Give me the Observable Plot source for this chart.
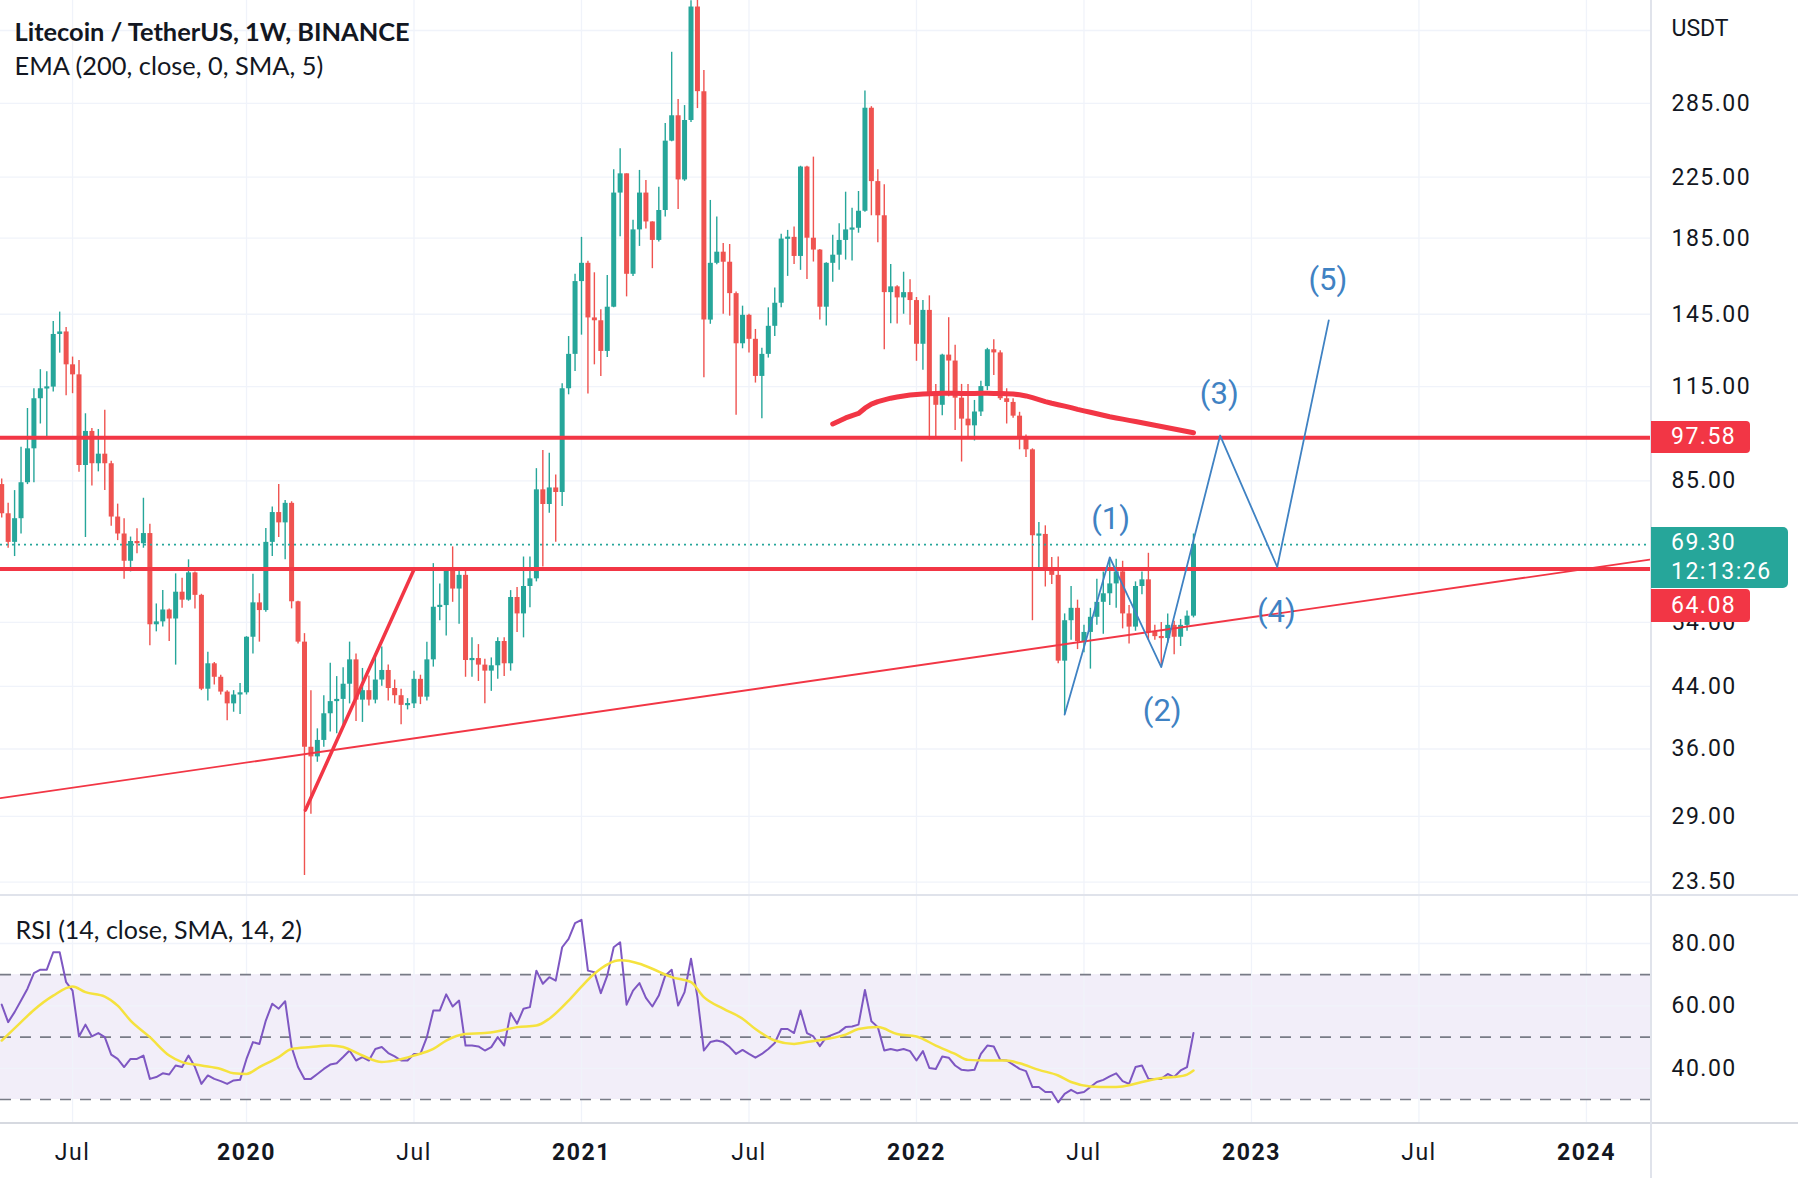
<!DOCTYPE html>
<html><head><meta charset="utf-8">
<script src="https://cdn.jsdelivr.net/npm/d3@7"></script>
<script src="https://cdn.jsdelivr.net/npm/@observablehq/plot@0.6"></script>
<style>
html,body{margin:0;padding:0;background:#fff;}
#wrap{position:relative;width:1798px;height:1178px;overflow:hidden;background:#fff;font-family:Roboto,sans-serif;color:#131722;}
#wrap svg{display:block;}
g[aria-label$="tick label"] text{letter-spacing:1.5px;}
.box{position:absolute;left:1651px;color:#fff;font-family:Roboto,sans-serif;font-size:23px;letter-spacing:1.5px;border-radius:0 4px 4px 0;box-sizing:border-box;padding-left:20px;white-space:nowrap;}
.sep{position:absolute;background:#e0e3eb;}
</style></head><body><div id="wrap"></div>
<script>
// ---------- DATA ----------
const weekStart = "2019-04-15";   // first weekly candle (Monday)
const weekEnd   = "2022-10-31";   // last weekly candle
const open = [84.0,76.5,69.8,75.3,84.5,94.2,110.6,114.2,114.8,135.9,
137.0,123.3,119.4,89.3,99.6,89.8,92.6,89.8,75.7,71.7,
65.7,70.0,69.5,71.8,53.6,54.1,56.2,54.6,59.5,58.0,
63.3,58.9,43.6,47.3,45.3,43.2,41.6,42.8,43.1,51.5,
57.5,56.1,69.8,76.8,74.3,79.1,57.7,50.7,36.2,35.1,
37.0,40.3,41.9,42.2,44.3,47.9,42.1,43.4,42.1,44.9,
46.3,43.7,42.7,41.4,41.6,45.0,42.5,47.9,56.7,57.0,
63.8,60.1,62.8,47.8,48.1,47.1,46.2,47.0,50.8,47.3,
58.5,55.5,60.6,62.1,82.6,78.8,83.1,81.9,114.2,127.5,
161.0,170.7,143.3,142.0,128.7,148.3,213.8,227.4,164.8,190.0,
213.8,194.9,183.7,202.2,252.5,273.9,223.0,269.8,388.1,295.9,
142.3,170.7,176.9,171.3,154.9,131.9,144.5,133.8,118.8,127.5,
139.5,150.2,184.5,185.5,174.5,232.4,185.0,178.1,148.3,170.7,
175.2,183.7,190.0,191.0,201.7,280.6,221.8,198.8,155.4,158.3,
152.8,155.4,151.5,131.7,146.8,112.8,108.3,127.2,124.8,110.8,
103.6,101.4,106.0,115.0,129.4,128.1,110.6,109.3,104.6,97.5,
93.9,71.3,71.6,63.6,62.8,47.7,54.3,56.5,50.8,52.3,
54.9,57.6,59.2,61.1,63.5,55.5,53.2,60.6,61.9,52.3,
51.6,51.3,53.5,51.5,53.5,55.1];
const high = [85.5,79.1,82.4,94.7,107.2,114.2,121.4,120.6,141.7,146.0,
139.0,126.4,125.0,105.4,100.5,100.2,106.6,90.5,78.9,75.3,
71.0,72.9,80.4,74.0,57.3,59.8,56.4,63.1,62.2,66.0,
63.5,59.1,49.1,47.5,45.6,43.4,43.4,44.4,51.6,63.0,
59.2,73.0,78.2,84.0,79.8,79.5,57.8,52.1,43.4,38.4,
42.7,47.4,45.4,46.7,50.7,48.8,46.6,45.5,48.3,49.9,
47.1,44.9,43.6,42.3,46.2,45.6,50.7,65.2,61.1,64.0,
68.8,63.8,64.2,51.4,50.3,48.0,48.2,51.4,51.4,59.8,
60.4,66.6,66.6,88.4,93.7,92.9,86.6,116.0,135.0,164.8,
185.5,171.9,165.6,147.1,164.2,230.3,246.4,227.4,195.9,229.9,
222.6,195.0,217.8,267.3,335.7,288.5,283.0,396.0,412.0,316.7,
208.8,198.0,181.9,181.3,155.7,148.8,145.0,138.1,130.0,148.0,
157.7,187.4,189.7,191.8,233.0,233.0,239.9,178.5,171.0,186.7,
193.8,214.4,203.6,214.9,296.5,282.0,230.4,219.5,170.1,158.9,
165.9,162.0,153.0,151.5,153.8,115.8,127.5,143.4,131.3,115.8,
115.8,110.0,117.0,130.0,133.6,129.0,114.2,110.6,105.9,98.5,
94.2,74.4,73.6,66.5,66.6,55.5,60.6,58.0,53.5,56.5,
62.0,63.5,66.5,66.1,65.7,57.0,61.5,63.5,67.4,53.5,
54.0,55.5,54.2,54.5,56.0,71.7];
const low = [75.5,68.5,66.7,71.7,84.0,84.5,102.0,97.9,113.0,128.0,
111.7,112.4,87.4,70.9,83.6,87.5,82.4,73.5,70.2,62.0,
63.5,67.3,68.5,50.1,52.4,53.2,50.8,47.1,56.5,57.8,
56.4,43.4,42.0,44.2,42.8,39.4,40.5,40.2,42.8,48.8,
50.7,55.8,66.7,70.9,66.0,56.4,50.4,24.0,29.2,34.5,
36.2,38.0,37.8,38.6,41.6,39.3,39.2,41.3,41.6,44.0,
42.0,41.6,38.9,40.8,41.0,41.5,42.0,46.8,54.3,51.7,
57.6,53.7,45.3,45.3,44.7,41.6,43.3,45.0,45.4,46.2,
52.3,51.4,56.6,61.5,64.5,76.6,69.8,78.3,112.0,120.7,
135.6,112.3,123.3,118.8,126.2,148.1,185.8,153.3,163.7,180.2,
190.5,167.8,182.7,198.0,252.0,202.8,222.0,268.0,280.3,118.3,
140.4,169.9,145.0,144.1,104.9,129.8,128.1,116.3,103.7,126.0,
135.0,148.0,163.7,170.0,166.9,162.1,171.4,142.3,139.6,160.7,
166.9,172.5,172.0,188.0,201.0,198.8,182.3,129.4,140.6,140.5,
145.0,140.0,124.7,121.2,96.9,97.4,104.7,111.3,99.9,90.3,
97.5,96.6,104.5,113.5,119.2,110.0,102.0,103.9,93.9,91.6,
54.3,64.1,60.5,61.0,47.3,40.2,51.0,49.5,49.0,46.5,
53.5,52.0,57.0,56.5,52.9,50.4,52.5,59.0,51.0,51.0,
46.8,50.5,48.7,50.0,52.5,54.8];
const close = [76.5,69.8,75.3,84.5,94.2,110.6,114.2,114.8,135.9,137.0,
123.3,119.4,89.3,99.6,89.8,92.6,89.8,75.7,71.7,65.7,
70.0,69.5,71.8,53.6,54.1,56.2,54.6,59.5,58.0,63.3,
58.9,43.6,47.3,45.3,43.2,41.6,42.8,43.1,51.5,57.5,
56.1,69.8,76.8,74.3,79.1,57.7,50.7,36.2,35.1,37.0,
40.3,41.9,42.2,44.3,47.9,42.1,43.4,42.1,44.9,46.3,
43.7,42.7,41.4,41.6,45.0,42.5,47.9,56.7,57.0,63.8,
60.1,62.8,47.8,48.1,47.1,46.2,47.0,50.8,47.3,58.5,
55.5,60.6,62.1,82.6,78.8,83.1,81.9,114.2,127.5,161.0,
170.7,143.3,142.0,128.7,148.3,213.8,227.4,164.8,190.0,213.8,
194.9,183.7,202.2,252.5,273.9,223.0,269.8,388.1,295.9,142.3,
170.7,176.9,171.3,154.9,131.9,144.5,133.8,118.8,127.5,139.5,
150.2,184.5,185.5,174.5,232.4,185.0,178.1,148.3,170.7,175.2,
183.7,190.0,191.0,201.7,280.6,221.8,198.8,155.4,158.3,152.8,
155.4,151.5,131.7,146.8,112.8,108.3,127.2,124.8,110.8,103.6,
101.4,106.0,115.0,129.4,128.1,110.6,109.3,104.6,97.5,93.9,
71.3,71.6,63.6,62.8,47.7,54.3,56.5,50.8,52.3,54.9,
57.6,59.2,61.1,63.5,55.5,53.2,60.6,61.9,52.3,51.6,
51.3,53.5,51.5,53.5,55.1,69.3];
// EMA(200) line, weekly values from 2021-10-04 to the last candle
const emaStart = "2021-10-04";
const emaValues = [102.0,103.0,104.0,104.8,105.5,107.3,108.7,109.6,110.2,110.8,111.2,111.6,111.9,112.1,112.3,112.4,
112.5,112.6,112.6,112.6,112.5,112.5,112.5,112.6,112.6,112.5,112.5,112.4,
112.3,112.0,111.6,111.0,110.3,109.6,109.0,108.5,108.0,107.5,106.9,106.4,105.9,105.4,104.9,104.4,104.0,103.6,103.2,102.8,102.4,102.0,101.6,101.2,100.8,100.4,100.0,99.6,99.2];
// RSI(14), one value per weekly candle
const rsi = [60.4,54.8,58.0,61.7,65.5,70.5,71.6,71.6,77.2,77.2,
67.6,64.9,50.2,54.0,50.2,51.3,50.0,44.4,43.0,40.4,
43.0,43.0,44.1,36.6,37.2,38.4,38.0,40.9,40.4,44.1,
40.4,35.0,37.7,36.6,35.9,35.0,36.1,36.3,43.0,48.4,
47.8,55.3,60.7,59.1,61.5,46.8,40.4,36.6,36.6,38.2,
39.8,41.2,41.6,43.6,45.7,42.5,43.6,42.5,46.2,46.8,
44.9,43.8,42.5,42.5,44.6,44.6,50.0,58.5,58.5,63.7,
59.8,61.7,47.3,47.3,47.0,45.7,46.8,50.0,47.3,57.7,
54.3,59.1,59.6,71.3,67.1,69.2,68.1,78.8,81.5,86.5,
87.6,71.3,70.8,64.1,69.7,78.8,80.4,60.4,64.9,67.3,
62.6,59.8,63.3,69.7,71.6,60.1,64.4,75.1,62.8,45.7,
48.4,48.9,48.4,46.8,44.6,45.9,44.6,43.4,44.6,46.2,
48.1,52.6,52.6,51.3,58.5,51.3,50.2,47.1,50.0,50.8,
51.6,53.2,53.4,54.0,65.1,55.1,53.2,45.7,46.2,45.7,
46.2,45.5,42.5,45.5,40.1,39.8,43.8,43.4,40.9,39.5,
39.3,39.5,44.6,47.3,47.0,42.7,42.5,41.2,39.8,39.1,
34.0,34.0,32.4,32.4,29.1,31.8,33.1,32.0,32.4,34.0,
35.6,36.3,37.4,38.4,35.9,35.0,40.4,40.9,36.6,36.6,
36.6,38.2,37.2,39.3,40.4,51.3];
// RSI-based SMA(14), read at these weeks
const smaDates = ["2019-04-15","2019-05-06","2019-05-20","2019-06-10","2019-07-01","2019-07-15","2019-08-05","2019-08-19","2019-09-02","2019-09-23","2019-10-14","2019-10-28","2019-11-18","2019-12-09","2019-12-23",
"2020-01-06","2020-01-20","2020-02-10","2020-02-24","2020-03-16","2020-04-06","2020-04-20","2020-05-11","2020-06-01","2020-06-15","2020-07-06","2020-07-27","2020-08-10","2020-08-31","2020-09-21","2020-10-05","2020-10-26","2020-11-16","2020-11-30","2020-12-21",
"2021-01-04","2021-01-18","2021-02-15","2021-03-08","2021-03-22","2021-04-12","2021-05-03","2021-05-17","2021-06-07","2021-06-28","2021-07-12","2021-08-02","2021-08-23","2021-09-06","2021-09-27","2021-10-18","2021-11-01","2021-11-22","2021-12-13",
"2022-01-03","2022-01-24","2022-02-14","2022-02-28","2022-03-21","2022-04-11","2022-04-25","2022-05-16","2022-06-06","2022-06-20","2022-07-11","2022-08-01","2022-08-15","2022-09-05","2022-09-26","2022-10-10","2022-10-24","2022-10-31"];
const smaValues = [48.9,54.8,58.7,63.3,66.2,64.4,63.0,60.1,55.3,50.0,44.1,42.0,40.9,39.8,38.4,
38.2,40.4,43.6,46.2,46.8,47.3,46.8,44.1,42.0,42.5,44.1,46.2,48.9,51.0,51.3,51.9,53.2,53.7,55.9,61.7,
66.2,70.3,74.6,73.5,71.9,69.2,67.6,62.8,59.1,55.9,52.6,48.9,47.8,48.4,49.4,50.8,52.6,53.2,51.0,
50.2,47.3,44.6,42.7,42.5,42.5,41.6,39.5,37.7,35.6,34.2,34.0,34.2,35.6,36.9,37.2,38.0,39.3];
// Horizontal levels and drawings
const levels = [97.58, 64.08];
const trendDates = ["2019-04-13T16:34Z","2024-03-11T16:19Z"]; const trendPrices = [30.75, 66.1];
const diagDates = ["2020-03-10","2020-07-06"]; const diagPrices = [29.6, 64.0];
const waveDates = ["2022-06-13","2022-08-01","2022-09-26","2022-11-29","2023-01-30","2023-03-27"];
const wavePrices = [40.2, 66.5, 46.8, 98.3, 64.5, 142.2];
const waveLabels = ["(1)","(2)","(3)","(4)","(5)"];
const waveLabelDates = ["2022-08-02","2022-09-27","2022-11-28","2023-01-29","2023-03-26"];
const waveLabelPrices = [75.3, 40.7, 112.1, 55.8, 161.9];
// Axis ticks
const xTickDates = ["2019-07-01","2020-01-06","2020-07-06","2021-01-04","2021-07-05","2022-01-03","2022-07-04","2023-01-02","2023-07-03","2024-01-01"];
const xTickLabels = ["Jul","2020","Jul","2021","Jul","2022","Jul","2023","Jul","2024"];
const priceGrid = [360, 285, 225, 185, 145, 115, 85, 54, 44, 36, 29, 23.5];
const priceLabels = [285, 225, 185, 145, 115, 85, 54, 44, 36, 29, 23.5];
const rsiTicks = [80, 60, 40];
const rsiLevels = [70, 50, 30];
const timer = "12:13:26";

// ---------- BUILD ----------
const up = "#26a69a", down = "#ef5350", red = "#f23645", blue = "#3f82c3", ink = "#131722";
const xDomain = [new Date("2019-04-13T16:34Z"), new Date("2024-03-11T16:19Z")];
const weeks = d3.utcMonday.range(new Date(weekStart), d3.utcDay.offset(new Date(weekEnd), 1));
const candles = weeks.map((date, k) => ({date, open: open[k], high: high[k], low: low[k], close: close[k]}));
const emaWeeks = d3.utcMonday.range(new Date(emaStart), d3.utcDay.offset(new Date(weekEnd), 1));
const ema = emaWeeks.map((date, k) => ({date, v: emaValues[k]}));
const rsiData = weeks.map((date, k) => ({date, v: rsi[k]}));
const smaData = smaDates.map((s, k) => ({date: new Date(s), v: smaValues[k]}));
const trend = trendDates.map((s, k) => ({date: new Date(s), p: trendPrices[k]}));
const diag = diagDates.map((s, k) => ({date: new Date(s), p: diagPrices[k]}));
const wave = waveDates.map((s, k) => ({date: new Date(s), p: wavePrices[k]}));
const waveText = waveLabels.map((t, k) => ({date: new Date(waveLabelDates[k]), p: waveLabelPrices[k], t}));
const xt = xTickDates.map(s => new Date(s));
const labelOf = d => xTickLabels[xt.findIndex(t => +t === +d)];
const monthTicks = xt.filter((d, i) => xTickLabels[i] === "Jul");
const yearTicks = xt.filter((d, i) => xTickLabels[i] !== "Jul");
const lastClose = close[close.length - 1];
const colorOf = d => d.close >= d.open ? up : down;
const bodyLo = d => { const lo = Math.min(d.open, d.close), hi = Math.max(d.open, d.close); const m = Math.sqrt(lo * hi), r = Math.max(hi / lo, 1.007); return m / Math.sqrt(r); };
const bodyHi = d => { const lo = Math.min(d.open, d.close), hi = Math.max(d.open, d.close); const m = Math.sqrt(lo * hi), r = Math.max(hi / lo, 1.007); return m * Math.sqrt(r); };
const gridStyle = {stroke: "#f0f3fa", strokeOpacity: 1, strokeWidth: 1.3};

const price = Plot.plot({
  width: 1798, height: 895, marginTop: 0, marginBottom: 0, marginLeft: 0, marginRight: 147,
  style: {fontFamily: "Roboto, sans-serif", background: "transparent", overflow: "visible", color: ink},
  x: {type: "utc", domain: xDomain, axis: null},
  y: {type: "log", domain: [22.51, 396.3], label: null},
  marks: [
    Plot.gridX(xt, gridStyle),
    Plot.gridY(priceGrid, gridStyle),
    Plot.axisY(priceLabels, {anchor: "right", label: null, tickSize: 0, tickPadding: 20, tickFormat: d => d.toFixed(2), fontSize: 23, color: ink}),
    Plot.ruleX(candles, {x: "date", y1: "low", y2: "high", stroke: colorOf, strokeWidth: 1.4}),
    Plot.ruleX(candles, {x: "date", y1: bodyLo, y2: bodyHi, stroke: colorOf, strokeWidth: 5}),
    Plot.line(ema, {x: "date", y: "v", stroke: red, strokeWidth: 5, strokeLinecap: "round", strokeLinejoin: "round"}),
    Plot.ruleY([lastClose], {stroke: up, strokeWidth: 1.6, strokeDasharray: "2,4"}),
    Plot.ruleY(levels, {stroke: red, strokeWidth: 4}),
    Plot.line(trend, {x: "date", y: "p", stroke: red, strokeWidth: 1.8}),
    Plot.line(diag, {x: "date", y: "p", stroke: red, strokeWidth: 3.5}),
    Plot.line(wave, {x: "date", y: "p", stroke: blue, strokeWidth: 1.8}),
    Plot.text(waveText, {x: "date", y: "p", text: "t", fill: blue, fontSize: 31, lineAnchor: "middle", textAnchor: "middle"}),
    Plot.text(["Litecoin / TetherUS, 1W, BINANCE"], {text: d => d, frameAnchor: "top-left", dx: 14, dy: 40, lineAnchor: "bottom", textAnchor: "start", fontFamily: "Lato, sans-serif", fontWeight: "bold", fontSize: 25.4, fill: ink}),
    Plot.text(["EMA (200, close, 0, SMA, 5)"], {text: d => d, frameAnchor: "top-left", dx: 14, dy: 74, lineAnchor: "bottom", textAnchor: "start", fontFamily: "Lato, sans-serif", fontSize: 25.4, fill: ink}),
    Plot.text(["USDT"], {text: d => d, frameAnchor: "top-right", dx: 20, dy: 35, lineAnchor: "bottom", textAnchor: "start", fontSize: 23, fill: ink})
  ]
});

const rsiPlot = Plot.plot({
  width: 1798, height: 283, marginTop: 0, marginBottom: 55, marginLeft: 0, marginRight: 147,
  style: {fontFamily: "Roboto, sans-serif", background: "transparent", overflow: "visible", color: ink},
  x: {type: "utc", domain: xDomain, label: null},
  y: {domain: [22.31, 95.38], label: null},
  marks: [
    Plot.rect([0], {x1: () => xDomain[0], x2: () => xDomain[1], y1: () => rsiLevels[2], y2: () => rsiLevels[0], fill: "#7e57c2", fillOpacity: 0.1}),
    Plot.gridX(xt, gridStyle),
    Plot.gridY(rsiTicks, gridStyle),
    Plot.ruleY(rsiLevels, {stroke: "#787b86", strokeWidth: 1.7, strokeDasharray: "11,9"}),
    Plot.line(rsiData, {x: "date", y: "v", stroke: "#7e57c2", strokeWidth: 2}),
    Plot.line(smaData, {x: "date", y: "v", stroke: "#f5e23e", strokeWidth: 2.5, curve: "monotone-x"}),
    Plot.axisY(rsiTicks, {anchor: "right", label: null, tickSize: 0, tickPadding: 20, tickFormat: d => d.toFixed(2), fontSize: 23, color: ink}),
    Plot.axisX(monthTicks, {anchor: "bottom", label: null, tickSize: 0, tickPadding: 20, tickFormat: labelOf, fontSize: 23, color: ink}),
    Plot.axisX(yearTicks, {anchor: "bottom", label: null, tickSize: 0, tickPadding: 20, tickFormat: labelOf, fontSize: 23, fontWeight: "bold", color: ink}),
    Plot.text(["RSI (14, close, SMA, 14, 2)"], {text: d => d, frameAnchor: "top-left", dx: 15, dy: 43, lineAnchor: "bottom", textAnchor: "start", fontFamily: "Lato, sans-serif", fontSize: 25, fill: ink})
  ]
});

const wrap = document.getElementById("wrap");
wrap.appendChild(price);
wrap.appendChild(rsiPlot);

function addDiv(cls, css, html) { const d = document.createElement("div"); d.className = cls; d.style.cssText = css; if (html) d.innerHTML = html; wrap.appendChild(d); return d; }
// pane separators and axis border
addDiv("sep", "left:0;top:894px;width:1798px;height:2px;");
addDiv("sep", "left:0;top:1122px;width:1798px;height:2px;background:#d6d9e0;");
addDiv("sep", "left:1650px;top:0;width:2px;height:1178px;");
// price labels on the axis, placed with the y scale
const ys = price.scale("y");
const yLevel = ys.apply(levels[0]);
addDiv("box", `top:${yLevel - 16}px;height:32px;width:99px;line-height:32px;background:${red};`, levels[0].toFixed(2));
const yLast = ys.apply(lastClose);
const tealTop = yLast - 17;
addDiv("box", `top:${tealTop}px;height:61px;width:137px;line-height:28.5px;padding-top:2px;background:${up};border-radius:0 5px 5px 0;`, `${lastClose.toFixed(2)}<br>${timer}`);
addDiv("box", `top:${tealTop + 62}px;height:33px;width:99px;line-height:33px;background:${red};`, levels[1].toFixed(2));
</script></body></html>
